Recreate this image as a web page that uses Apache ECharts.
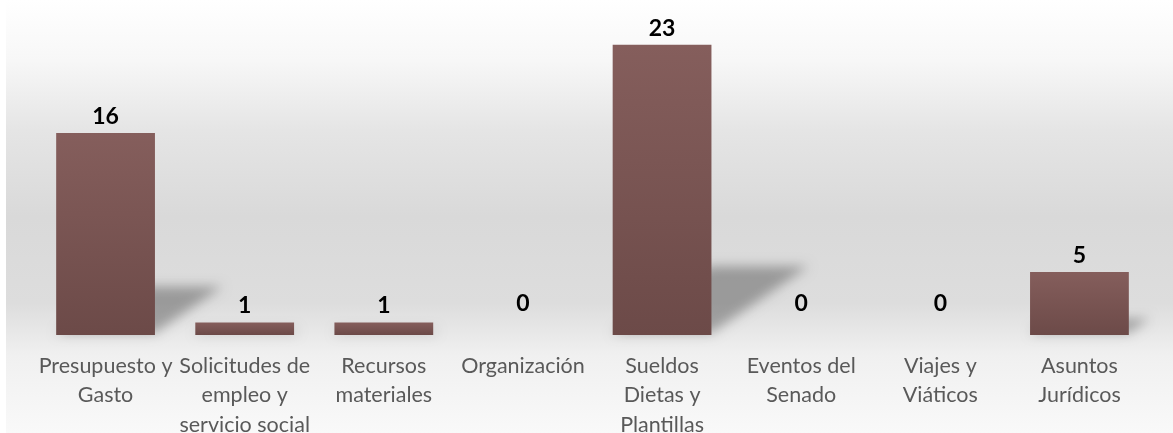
<!DOCTYPE html>
<html>
<head>
<meta charset="utf-8">
<script src="https://cdn.jsdelivr.net/npm/echarts@6/dist/echarts.min.js"></script>
<style>
  html, body { margin: 0; padding: 0; background: #fff; }
  #chart { width: 1173px; height: 433px; }
</style>
</head>
<body>
<div id="chart"></div>
<script>
// categories and values
const categories = [
  "Presupuesto y\nGasto",
  "Solicitudes de\nempleo y\nservicio social",
  "Recursos\nmateriales",
  "Organización",
  "Sueldos\nDietas y\nPlantillas",
  "Eventos del\nSenado",
  "Viajes y\nViáticos",
  "Asuntos\nJurídicos"
];
const values = [16, 1, 1, 0, 23, 0, 0, 5];
const yMax = 25;

const barWidthRatio = 0.71;
const OFF = 3000; // draw shape off-canvas, keep only its blurred shadow

// perspective shadow behind each bar
function renderShadow(params, api) {
  const idx = api.value(0);
  const v = api.value(1);
  if (!v) return null;
  const base = api.coord([idx, 0]);
  const top = api.coord([idx, v]);
  const band = api.size([1, 0])[0];
  const w = band * barWidthRatio;
  const xl = base[0] - w / 2 - OFF;
  const xr = base[0] + w / 2 - OFF;
  const y0 = base[1] - 2;
  const dy = (base[1] - top[1]) * 0.23;
  const dx = dy * 1.45;
  return {
    type: "polygon",
    shape: {
      points: [[xl, y0], [xr, y0], [xr + dx, y0 - dy], [xl + dx, y0 - dy]]
    },
    style: {
      fill: "#000",
      shadowBlur: 12,
      shadowOffsetX: OFF,
      shadowColor: "rgba(0,0,0,0.3)"
    }
  };
}

const chart = echarts.init(document.getElementById("chart"));

const option = {
  animation: false,
  graphic: [{
    type: "rect",
    z: -10,
    left: 6,
    top: 0,
    shape: { width: 1167, height: 433 },
    style: {
      fill: {
        type: "linear", x: 0, y: 0, x2: 0, y2: 1,
        colorStops: [
          { offset: 0, color: "#ffffff" },
          { offset: 0.14, color: "#f7f7f7" },
          { offset: 0.3, color: "#e5e5e5" },
          { offset: 0.5, color: "#d9d9d9" },
          { offset: 0.7, color: "#dddddd" },
          { offset: 0.77, color: "#e8e8e8" },
          { offset: 0.82, color: "#f0f0f0" },
          { offset: 1, color: "#f9f9f9" }
        ]
      }
    }
  }],
  grid: { left: 36, right: 24, top: 19.4, bottom: 98, outerBoundsMode: "none" },
  xAxis: {
    type: "category",
    data: categories,
    axisLine: { show: false },
    axisTick: { show: false },
    axisLabel: {
      interval: 0,
      margin: 16,
      color: "#595959",
      fontFamily: "Lato",
      fontSize: 21.5,
      lineHeight: 29.5
    }
  },
  yAxis: {
    type: "value",
    min: 0,
    max: yMax,
    show: false,
    splitLine: { show: false }
  },
  series: [
    {
      type: "custom",
      z: 1,
      renderItem: renderShadow,
      data: values.map((v, i) => [i, v]),
      silent: true
    },
    {
      type: "bar",
      z: 3,
      barWidth: (barWidthRatio * 100) + "%",
      data: values.map(v => v === 0
        ? { value: v, label: { distance: 20 } }
        : v),
      itemStyle: {
        color: {
          type: "linear", x: 0, y: 0, x2: 0, y2: 1,
          colorStops: [
            { offset: 0, color: "#855e5c" },
            { offset: 1, color: "#6c4a48" }
          ]
        }
      },
      label: {
        show: true,
        position: "top",
        distance: 5,
        color: "#000",
        fontFamily: "Lato",
        fontWeight: "bold",
        fontSize: 23
      }
    }
  ]
};

chart.setOption(option);
</script>
</body>
</html>
